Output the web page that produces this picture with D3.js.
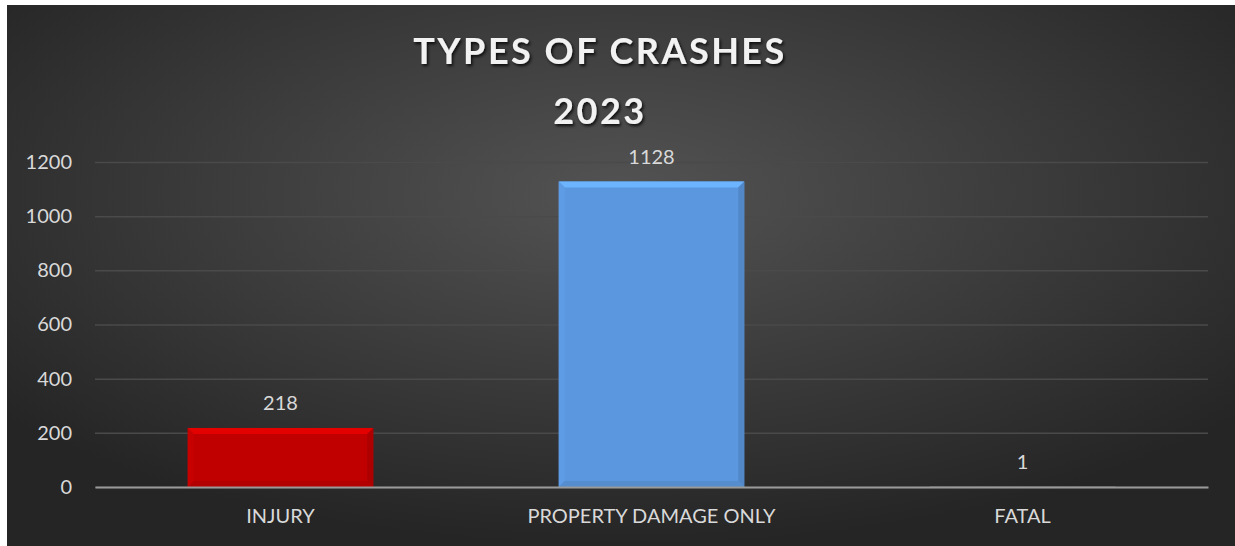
<!DOCTYPE html>
<html><head><meta charset="utf-8">
<script src="https://cdn.jsdelivr.net/npm/d3@7"></script>
<style>
html,body{margin:0;padding:0;background:#ffffff;}
svg{display:block;}
</style></head>
<body>
<svg id="chart" width="1235" height="546"></svg>
<script>
const categories = ["INJURY", "PROPERTY DAMAGE ONLY", "FATAL"];
const values = [218, 1128, 1];
const barColors = ["#c00000", "#5b97de", "#a5a5a5"];
const yTicks = [0, 200, 400, 600, 800, 1000, 1200];
const titleLines = ["TYPES OF CRASHES", "2023"];

const W = 1235, H = 546;
const svg = d3.select("#chart");
const defs = svg.append("defs");

const bg = defs.append("radialGradient").attr("id","bg")
  .attr("cx","50%").attr("cy","35%").attr("r","65%");
bg.append("stop").attr("offset","0%").attr("stop-color","#535353");
bg.append("stop").attr("offset","100%").attr("stop-color","#252525");

const sh = defs.append("filter").attr("id","tshadow").attr("x","-10%").attr("y","-20%").attr("width","120%").attr("height","150%");
sh.append("feDropShadow").attr("dx",1.5).attr("dy",2).attr("stdDeviation",1.5).attr("flood-color","#000").attr("flood-opacity",0.8);

svg.append("rect").attr("x",7).attr("y",5).attr("width",W-7).attr("height",H-5).attr("fill","url(#bg)");

const plot = {left:95, right:1208, top:162, bottom:487};
const x = d3.scaleBand().domain(categories).range([plot.left, plot.right]).paddingInner(0.5).paddingOuter(0.25);
const y = d3.scaleLinear().domain([0,1200]).range([plot.bottom, plot.top]);

// gridlines
const yAxis = d3.axisLeft(y).tickValues(yTicks).tickFormat(d3.format("d")).tickSize(-(plot.right-plot.left)).tickPadding(23);
const gy = svg.append("g").attr("transform",`translate(${plot.left},0)`).call(yAxis);
gy.select(".domain").remove();
gy.selectAll(".tick line").attr("stroke","#4a4a4a").attr("stroke-width",1.5);
gy.selectAll(".tick text").attr("fill","#d9d9d9").attr("font-family","Lato, 'Open Sans', sans-serif").attr("font-size",20);

// bars
const bevel = 6;
const bars = svg.append("g");
categories.forEach((c,i)=>{
  const x0 = x(c), bw = x.bandwidth(), y0 = y(values[i]), y1 = y(0);
  const col = d3.color(barColors[i]);
  const g = bars.append("g");
  g.append("rect").attr("x",x0).attr("y",y0).attr("width",bw).attr("height",y1-y0).attr("fill",col.formatHex());
  const h = y1-y0;
  if (h > 2*bevel) {
    g.append("polygon").attr("points",[[x0,y0],[x0+bw,y0],[x0+bw-bevel,y0+bevel],[x0+bevel,y0+bevel]].join(" "))
      .attr("fill",col.brighter(0.5).formatHex());
    g.append("polygon").attr("points",[[x0,y0],[x0+bevel,y0+bevel],[x0+bevel,y1-bevel],[x0,y1]].join(" "))
      .attr("fill",col.brighter(0.1).formatHex());
    g.append("polygon").attr("points",[[x0+bw,y0],[x0+bw-bevel,y0+bevel],[x0+bw-bevel,y1-bevel],[x0+bw,y1]].join(" "))
      .attr("fill",col.darker(0.3).formatHex());
    g.append("polygon").attr("points",[[x0,y1],[x0+bevel,y1-bevel],[x0+bw-bevel,y1-bevel],[x0+bw,y1]].join(" "))
      .attr("fill",col.darker(0.2).formatHex());
  }
});

// x axis
const xAxis = d3.axisBottom(x).tickSize(0).tickPadding(22);
const gx = svg.append("g").attr("transform",`translate(0,${plot.bottom})`).call(xAxis);
gx.select(".domain").attr("stroke","#9a9a9a").attr("stroke-width",2);
gx.selectAll(".tick text").attr("fill","#d9d9d9").attr("font-family","Lato, 'Open Sans', sans-serif").attr("font-size",20);

// value labels
svg.append("g").selectAll("text").data(categories).join("text")
  .attr("x",d=>x(d)+x.bandwidth()/2)
  .attr("y",(d,i)=>y(values[i])-18)
  .attr("text-anchor","middle")
  .attr("fill","#d9d9d9").attr("font-family","Lato, 'Open Sans', sans-serif").attr("font-size",20)
  .text((d,i)=>values[i]);

// title
svg.append("g").selectAll("text").data(titleLines).join("text")
  .attr("x",600).attr("y",(d,i)=>64+i*60)
  .attr("text-anchor","middle")
  .attr("fill","#f2f2f2").attr("font-family","Lato, 'Open Sans', sans-serif").attr("font-weight",700)
  .attr("font-size",36).attr("letter-spacing",2.5)
  .attr("filter","url(#tshadow)")
  .text(d=>d);
</script>
</body></html>
